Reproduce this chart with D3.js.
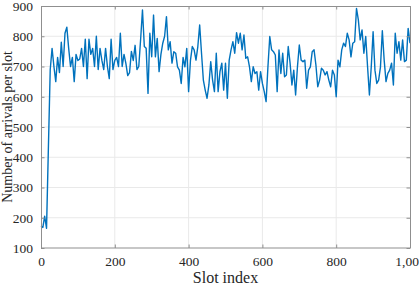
<!DOCTYPE html>
<html>
<head>
<meta charset="utf-8">
<script src="https://cdn.jsdelivr.net/npm/d3@7"></script>
<style>
  body { margin: 0; background: #fff; }
  svg { display: block; font-family: "Liberation Serif", serif; }
</style>
</head>
<body>
<script>
// arrivals per slot, one value every 5 slots (slot 0 .. 1000)
const slotStep = 5;
const arrivals = [
  172,168,205,165,430,690,760,700,650,730,
  680,780,700,810,830,760,700,730,650,740,
  720,725,760,700,790,660,790,740,760,700,
  800,690,760,720,690,760,700,660,790,690,
  720,730,700,810,700,740,710,670,680,750,
  720,770,690,700,790,887,766,760,611,810,
  732,870,732,793,683,740,777,800,865,755,
  782,711,749,744,699,688,644,730,699,760,
  617,720,766,755,721,766,837,744,655,622,
  595,639,716,655,617,744,617,683,711,622,
  711,595,721,755,782,744,812,777,810,755,
  804,727,732,699,650,699,677,683,622,683,
  644,617,584,699,799,755,749,738,617,755,
  677,744,666,672,766,711,639,688,606,699,
  771,721,716,721,628,688,699,749,755,705,
  633,655,694,688,672,683,655,633,688,672,
  600,721,699,755,777,766,810,788,732,777,
  782,892,854,788,821,744,799,699,606,699,
  815,688,644,655,699,818,721,650,677,688,
  711,639,810,744,782,721,788,716,721,826,
  777
];
const xTicks = [0, 200, 400, 600, 800, 1000];
const yTicks = [100, 200, 300, 400, 500, 600, 700, 800, 900];

const data = arrivals.map((v, i) => ({ slot: i * slotStep, value: v }));

const width = 419, height = 289;
const margin = { top: 6, right: 9, bottom: 41, left: 41 };
const w = width - margin.left - margin.right;
const h = height - margin.top - margin.bottom;

const svg = d3.select("body").append("svg")
  .attr("width", width)
  .attr("height", height);

const g = svg.append("g")
  .attr("transform", `translate(${margin.left}, ${margin.top})`);

const x = d3.scaleLinear().domain([0, 1000]).range([0, w]);
const y = d3.scaleLinear().domain([100, 900]).range([h, 0]);

const axisColor = "#8f8f8f", textColor = "#262626";

// grid
g.append("g").selectAll("line").data(xTicks.slice(1, -1)).join("line")
  .attr("x1", d => x(d)).attr("x2", d => x(d))
  .attr("y1", 0).attr("y2", h)
  .attr("stroke", "#e9e9e9").attr("stroke-width", 1);
g.append("g").selectAll("line").data(yTicks.slice(1, -1)).join("line")
  .attr("y1", d => y(d)).attr("y2", d => y(d))
  .attr("x1", 0).attr("x2", w)
  .attr("stroke", "#e9e9e9").attr("stroke-width", 1);

// line
g.append("path")
  .datum(data)
  .attr("fill", "none")
  .attr("stroke", "#0072BD")
  .attr("stroke-width", 1.4)
  .attr("stroke-linejoin", "round")
  .attr("d", d3.line().x(d => x(d.slot)).y(d => y(d.value)));

// axes (ticks inside, matlab style)
function styleAxis(sel) {
  sel.attr("font-family", "'Liberation Serif', serif").attr("font-size", 13.5);
  sel.select(".domain").remove();
  sel.selectAll(".tick line").attr("stroke", axisColor);
  sel.selectAll(".tick text").attr("fill", textColor);
}

g.append("g")
  .attr("transform", `translate(0, ${h})`)
  .call(d3.axisBottom(x).tickValues(xTicks).tickSize(-3.5).tickPadding(8))
  .call(styleAxis);
g.append("g")
  .call(d3.axisLeft(y).tickValues(yTicks).tickSize(-3.5).tickPadding(8))
  .call(styleAxis);
g.append("g")
  .call(d3.axisTop(x).tickValues(xTicks).tickSize(-3.5).tickFormat(""))
  .call(styleAxis);
g.append("g")
  .attr("transform", `translate(${w}, 0)`)
  .call(d3.axisRight(y).tickValues(yTicks).tickSize(-3.5).tickFormat(""))
  .call(styleAxis);

// box
g.append("rect")
  .attr("x", 0.5).attr("y", 0.5)
  .attr("width", w).attr("height", h - 0.5)
  .attr("fill", "none")
  .attr("stroke", axisColor).attr("stroke-width", 1);

// labels
svg.append("text")
  .attr("x", margin.left + w / 2)
  .attr("y", height - 6)
  .attr("text-anchor", "middle")
  .attr("fill", textColor)
  .style("font-size", "16px")
  .text("Slot index");

svg.append("text")
  .attr("transform", `translate(12, ${margin.top + h / 2}) rotate(-90)`)
  .attr("text-anchor", "middle")
  .attr("fill", textColor)
  .style("font-size", "14px")
  .text("Number of arrivals per slot");
</script>
</body>
</html>
